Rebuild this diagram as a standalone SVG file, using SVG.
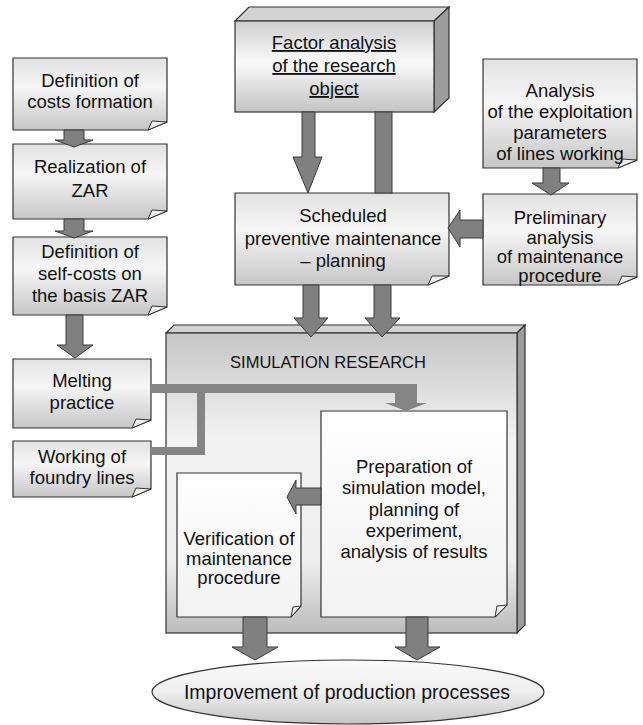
<svg xmlns="http://www.w3.org/2000/svg" width="643" height="725" viewBox="0 0 643 725">
<style>
  .doc{stroke:#333;stroke-width:1.2;fill:url(#gDoc)}
  .docw{stroke:#333;stroke-width:1.2;fill:url(#gDocW)}
  .curl{stroke:#333;stroke-width:1;fill:#eeeeee}
  .top{fill:#d2d2d2;stroke:#333;stroke-width:1.2}
  .side{fill:#9c9c9c;stroke:#333;stroke-width:1.2}
  .arr{fill:#808080;stroke:#3a3a3a;stroke-width:1}
  .bar{fill:#858585;stroke:none}
  text{font-family:"Liberation Sans",Arial,sans-serif;font-size:18.5px;fill:#111;text-anchor:middle}
</style>
<defs>
  <linearGradient id="gDoc" x1="0" y1="0" x2="0" y2="1">
    <stop offset="0" stop-color="#e2e2e2"/>
    <stop offset="0.4" stop-color="#f6f6f6"/>
    <stop offset="1" stop-color="#c6c6c6"/>
  </linearGradient>
  <linearGradient id="gDocW" x1="0" y1="0" x2="0" y2="1">
    <stop offset="0" stop-color="#ffffff"/>
    <stop offset="1" stop-color="#f2f2f2"/>
  </linearGradient>
  <linearGradient id="gBox" x1="0" y1="0" x2="0" y2="1">
    <stop offset="0" stop-color="#cdcdcd"/>
    <stop offset="0.45" stop-color="#fafafa"/>
    <stop offset="1" stop-color="#c4c4c4"/>
  </linearGradient>
  <linearGradient id="gSim" x1="0" y1="0" x2="0" y2="1">
    <stop offset="0" stop-color="#c6c6c6"/>
    <stop offset="0.35" stop-color="#f2f2f2"/>
    <stop offset="0.75" stop-color="#f0f0f0"/>
    <stop offset="1" stop-color="#bcbcbc"/>
  </linearGradient>
  <linearGradient id="gEll" x1="0" y1="0" x2="0" y2="1">
    <stop offset="0" stop-color="#fafafa"/>
    <stop offset="0.5" stop-color="#eeeeee"/>
    <stop offset="1" stop-color="#c4c4c4"/>
  </linearGradient>
</defs>
<rect width="643" height="725" fill="#ffffff"/>

<g id="factor">
  <polygon class="top" points="235,21 249,7 449,7 434,21"/>
  <polygon class="side" points="434,21 449,7 449,98 434,112"/>
  <rect x="235" y="21" width="199" height="91" fill="url(#gBox)" stroke="#333" stroke-width="1.2"/>
  <text x="334" y="49" text-decoration="underline">Factor analysis</text>
  <text x="334" y="72" text-decoration="underline">of the research</text>
  <text x="334" y="95" text-decoration="underline">object</text>
</g>

<g id="simulation">
  <polygon class="top" points="166,333 174,325 525,325 517,333"/>
  <polygon class="side" points="517,333 525,325 525,625 517,633"/>
  <rect x="166" y="333" width="351" height="300" fill="url(#gSim)" stroke="#333" stroke-width="1.2"/>
  <text x="328" y="368" style="font-size:16.5px">SIMULATION RESEARCH</text>
</g>

<g id="def_costs">
  <path class="doc" d="M13,58 H167 V122 L148,130 H13 Z"/>
  <polygon class="curl" points="148,130 152,121 167,122"/>
  <text x="90" y="87">Definition of</text>
  <text x="90" y="108">costs formation</text>
</g>
<g id="realization">
  <path class="doc" d="M13,144 H167 V211 L148,219 H13 Z"/>
  <polygon class="curl" points="148,219 152,210 167,211"/>
  <text x="90" y="173">Realization of</text>
  <text x="90" y="197">ZAR</text>
</g>
<g id="self_costs">
  <path class="doc" d="M13,237 H167 V307 L148,315 H13 Z"/>
  <polygon class="curl" points="148,315 152,306 167,307"/>
  <text x="90" y="258">Definition of</text>
  <text x="90" y="280">self-costs on</text>
  <text x="90" y="302">the basis ZAR</text>
</g>
<g id="melting">
  <path class="doc" d="M13,359 H151 V420 L132,428 H13 Z"/>
  <polygon class="curl" points="132,428 136,419 151,420"/>
  <text x="82" y="387">Melting</text>
  <text x="82" y="409">practice</text>
</g>
<g id="working">
  <path class="doc" d="M13,441 H151 V489 L132,497 H13 Z"/>
  <polygon class="curl" points="132,497 136,488 151,489"/>
  <text x="82" y="463">Working of</text>
  <text x="82" y="484">foundry lines</text>
</g>
<g id="scheduled">
  <path class="doc" d="M235,193 H449 V276 L428,285 H235 Z"/>
  <polygon class="curl" points="428,285 432,276 449,276"/>
  <text x="343" y="222">Scheduled</text>
  <text x="343" y="245">preventive maintenance</text>
  <text x="343" y="267">– planning</text>
</g>
<g id="analysis">
  <path class="doc" d="M483,59 H637 V160 L618,168 H483 Z"/>
  <polygon class="curl" points="618,168 622,159 637,160"/>
  <text x="560" y="97">Analysis</text>
  <text x="560" y="118">of the exploitation</text>
  <text x="560" y="139">parameters</text>
  <text x="560" y="160">of lines working</text>
</g>
<g id="preliminary">
  <path class="doc" d="M483,194 H637 V277 L618,285 H483 Z"/>
  <polygon class="curl" points="618,285 622,276 637,277"/>
  <text x="560" y="224">Preliminary</text>
  <text x="560" y="244">analysis</text>
  <text x="560" y="263">of maintenance</text>
  <text x="560" y="282">procedure</text>
</g>
<g id="verification">
  <path class="docw" d="M177,473 H301 V606 L291,617 H177 Z"/>
  <polygon class="curl" points="291,617 293,607 301,606"/>
  <text x="239" y="545">Verification of</text>
  <text x="239" y="565">maintenance</text>
  <text x="239" y="584">procedure</text>
</g>
<g id="preparation">
  <path class="docw" d="M321,411 H507 V605 L495,617 H321 Z"/>
  <polygon class="curl" points="495,617 497,606 507,605"/>
  <text x="414" y="473">Preparation of</text>
  <text x="414" y="494">simulation model,</text>
  <text x="414" y="516">planning of</text>
  <text x="414" y="537">experiment,</text>
  <text x="414" y="558">analysis of results</text>
</g>
<g id="improvement">
  <ellipse cx="348" cy="692" rx="196" ry="32" fill="url(#gEll)" stroke="#333" stroke-width="1.2"/>
  <text x="347" y="699" style="font-size:19.5px">Improvement of production processes</text>
</g>

<g id="connectors">
  <polygon class="arr" points="64,130 84,130 84,140 93,140 74,147 55,140 64,140"/>
  <polygon class="arr" points="64,219 84,219 84,231 93,231 74,238 55,231 64,231"/>
  <polygon class="arr" points="66,315 83,315 83,345 93,345 75,358 57,345 66,345"/>
  <polygon class="arr" points="302,112 315,112 315,157 322,157 308,193 293,157 302,157"/>
  <rect class="arr" x="375" y="112" width="17" height="81"/>
  <polygon class="arr" points="303,285 319,285 319,318 328,318 311,337 294,318 303,318"/>
  <polygon class="arr" points="374,285 391,285 391,318 400,318 382,337 365,318 374,318"/>
  <polygon class="arr" points="543,168 560,168 560,183 569,183 551,195 532,183 543,183"/>
  <polygon class="arr" points="483,220 460,220 460,210 448,228 460,247 460,238 483,238"/>
  <polygon class="arr" points="321,488 296,488 296,480 287,497 296,514 296,505 321,505"/>
  <polygon class="arr" points="243,617 267,617 267,647 278,647 255,660 232,647 243,647"/>
  <polygon class="arr" points="406,617 428,617 428,647 440,647 417,660 395,647 406,647"/>
  <polygon class="bar" points="151,384 417,384 417,403 427,403 406,411 385,403 395,403 395,393 151,393"/>
  <polygon class="bar" points="197,390 205,390 205,455 151,455 151,447 197,447"/>
</g>
</svg>
